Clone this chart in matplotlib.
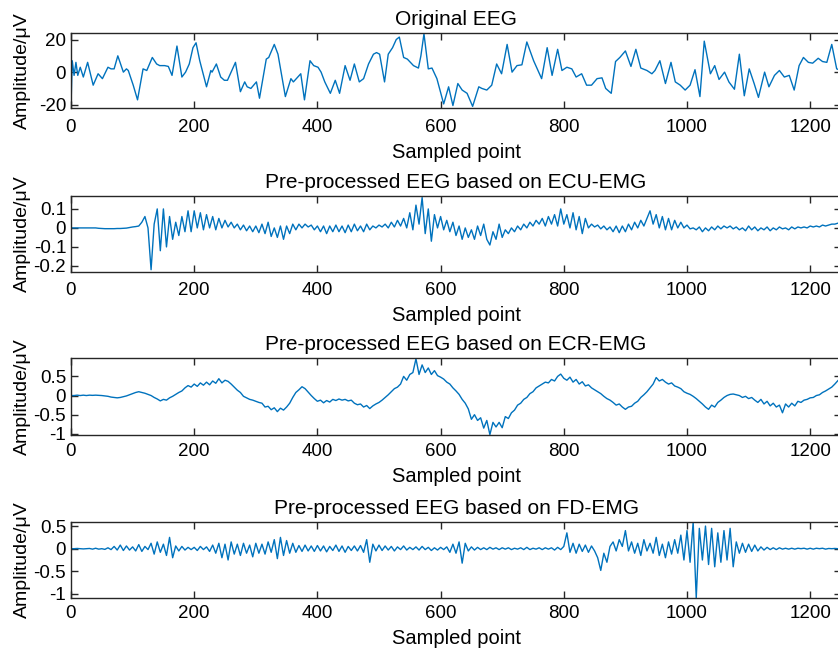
import numpy as np
import matplotlib
matplotlib.use('Agg')
import matplotlib.pyplot as plt

plt.rcParams['font.family'] = ['Liberation Sans', 'DejaVu Sans']
plt.rcParams['axes.unicode_minus'] = False

# ---- data ----
# original EEG: vertices (sample index, amplitude)
eeg_x = [0, 2, 5, 8, 11, 15, 20, 27, 36, 44, 51, 60, 65, 70, 76, 85, 90, 93, 101, 108,
         117, 123, 132, 139, 144, 152, 158, 164, 172, 180, 186, 192, 198, 203, 209, 220, 227, 229, 236, 243,
         249, 254, 267, 275, 282, 286, 292, 301, 306, 317, 321, 330, 336, 348, 357, 361, 373, 379, 388, 394,
         401, 406, 412, 421, 429, 436, 445, 453, 460, 468, 475, 483, 491, 496, 501, 509, 515, 522, 528, 533,
         540, 546, 556, 564, 568, 573, 580, 586, 594, 605, 613, 620, 628, 635, 643, 652, 662, 667, 675, 683,
         691, 699, 708, 716, 724, 732, 740, 751, 764, 773, 781, 790, 797, 805, 813, 820, 829, 837, 845, 854,
         862, 868, 877, 884, 891, 900, 909, 917, 925, 935, 943, 948, 956, 965, 974, 981, 989, 997, 1005, 1013,
         1021, 1028, 1038, 1045, 1052, 1061, 1068, 1077, 1085, 1093, 1101, 1109, 1116, 1126, 1133, 1142, 1150, 1158, 1166, 1174,
         1182, 1189, 1197, 1204, 1213, 1220, 1227, 1235, 1243, 1250]
eeg_y = [-21, 7, -2, 6, -2, 3, -3, 6, -8, -1, -4, 3, 2, 2, 10, 0, 2, 1, -8, -17,
         2, 1, 9, 5, 4, 4, 3.5, -2, 16, -3, 0, 5, 15, 18, 7, -9, 1, 0, 5, -3,
         -5, -5, 6, -12, -6, -9, -10, -6, -16, 8, 9, 17, 11, -15, -4, -6, -1, -17, 7, 4,
         3, 0, -6, -13, -5, -13, 4, -5, 5, -6, -4, 5, 11, 12, 11, -6, 11, 15, 20, 21.5,
         9, 8, 4, 2.5, 10, 23.5, 2, 2.5, -4, -19.5, -9, -20.5, -7, -11, -13, -21, -9, -10, -11, -8,
         5, -1, 17, 0, 4, 4.5, 18.5, 7, -4, 15, -2, 14, 1, 3, 2, -3, -1, -8, -8, -4,
         -3.5, -10, -13, 6.5, 9, 13, 3.5, 14, 2.5, 1, -1, 1, 7, -7, 6, -6, -8, -11, -8, 1.5,
         -15, 19, -1, 4, -4.5, 0, -6, -10.5, 11, -14.5, 2, -7, -15.5, 0, -9, -2, 1, -3, -2, -11,
         4, 9, 6, 5.5, 8.5, 6.5, 6, 17, 2, 1]

# pre-processed signals, one value every 5 samples (one line = 100 samples)
step = 5
ecu = [0, 0, 0, 0, 0, 0, 0, 0, 0, -0.002, -0.003, -0.004, -0.004, -0.004, -0.004, -0.003, -0.003, -0.002, -0.001, 0.002,
       0.005, 0.007, 0.01, 0.03, 0.06, 0.0, -0.22, 0.02, 0.1, -0.12, 0.1, -0.1, 0.06, -0.06, 0.03, -0.04, 0.06, -0.02, 0.09, -0.02,
       0.09, 0.0, 0.08, -0.01, 0.07, 0.0, 0.06, -0.01, 0.05, 0.0, 0.04, 0.005, 0.03, 0.0, 0.02, -0.01, 0.015, -0.015, 0.01, -0.02,
       0.01, -0.025, 0.02, -0.03, 0.03, -0.045, 0.0, -0.05, 0.01, -0.06, 0.01, -0.03, 0.02, -0.01, 0.02, 0.0, 0.02, 0.005, 0.015, -0.01,
       0.01, -0.02, 0.01, -0.03, 0.01, -0.02, 0.015, -0.02, 0.01, -0.025, 0.015, -0.02, 0.02, -0.015, 0.01, -0.02, 0.02, -0.01, 0.01, 0.0,
       0.015, 0.005, 0.02, 0.0, 0.03, 0.005, 0.04, 0.01, 0.05, 0.0, 0.08, -0.01, 0.12, 0.02, 0.16, -0.03, 0.1, -0.07, 0.07, 0.0,
       0.06, -0.01, 0.04, -0.02, 0.03, -0.04, 0.01, -0.06, 0.0, -0.05, -0.01, -0.06, 0.01, -0.04, 0.02, -0.06, -0.09, -0.02, -0.06, 0.02,
       -0.05, -0.01, -0.03, 0.0, -0.02, 0.01, -0.01, 0.02, 0.0, 0.03, 0.01, 0.04, 0.02, 0.05, 0.01, 0.06, 0.02, 0.07, 0.01, 0.1,
       0.02, 0.07, 0.0, 0.08, -0.01, 0.06, -0.03, 0.05, 0.0, 0.02, 0.005, 0.015, -0.005, 0.01, -0.01, 0.005, -0.02, 0.01, -0.025, 0.01,
       -0.02, 0.02, -0.01, 0.03, 0.0, 0.04, 0.01, 0.05, 0.09, 0.02, 0.07, 0.0, 0.06, -0.01, 0.05, -0.01, 0.04, 0.0, 0.03, 0.0,
       0.015, -0.005, 0.0, -0.01, 0.005, -0.02, 0.0, -0.015, 0.005, -0.01, 0.01, -0.005, 0.01, 0.0, 0.01, -0.005, 0.005, -0.01, 0.0, -0.015,
       0.01, -0.01, 0.005, -0.015, 0.0, -0.01, 0.005, -0.015, 0.0, -0.01, 0.005, -0.005, 0.0, -0.01, 0.005, -0.005, 0.005, 0.0, 0.005, 0.0,
       0.01, 0.005, 0.01, 0.005, 0.015, 0.01, 0.015, 0.02, 0.02, 0.025]

ecr = [0, 0, 0.01, 0, 0.01, 0, 0.01, 0.005, 0.01, 0.005, 0.0, -0.01, -0.02, -0.04, -0.05, -0.06, -0.05, -0.03, -0.01, 0.02,
       0.05, 0.08, 0.1, 0.08, 0.06, 0.03, 0.0, -0.05, -0.09, -0.14, -0.1, -0.12, -0.06, -0.02, 0.03, 0.08, 0.12, 0.2, 0.26, 0.22,
       0.3, 0.24, 0.33, 0.27, 0.35, 0.28, 0.38, 0.32, 0.44, 0.33, 0.4, 0.37, 0.3, 0.22, 0.14, 0.08, -0.02, -0.06, -0.1, -0.12,
       -0.15, -0.18, -0.2, -0.3, -0.28, -0.37, -0.32, -0.42, -0.33, -0.38, -0.3, -0.2, -0.05, 0.08, 0.15, 0.23, 0.18, 0.09, 0.0, -0.08,
       -0.15, -0.12, -0.19, -0.13, -0.17, -0.1, -0.13, -0.09, -0.12, -0.1, -0.14, -0.12, -0.2, -0.24, -0.22, -0.3, -0.26, -0.34, -0.27, -0.22,
       -0.18, -0.12, -0.05, 0.02, 0.1, 0.18, 0.22, 0.3, 0.5, 0.4, 0.55, 0.6, 0.96, 0.55, 0.8, 0.6, 0.72, 0.55, 0.65, 0.52,
       0.48, 0.43, 0.35, 0.3, 0.2, 0.12, 0.03, -0.1, -0.2, -0.35, -0.62, -0.5, -0.65, -0.58, -0.85, -0.65, -1.02, -0.7, -0.82, -0.7,
       -0.84, -0.55, -0.6, -0.45, -0.38, -0.25, -0.2, -0.1, -0.05, 0.05, 0.1, 0.2, 0.25, 0.3, 0.35, 0.33, 0.42, 0.38, 0.5, 0.56,
       0.45, 0.4, 0.48, 0.35, 0.42, 0.3, 0.36, 0.25, 0.28, 0.2, 0.15, 0.1, 0.05, -0.02, -0.08, -0.12, -0.18, -0.25, -0.22, -0.3,
       -0.36, -0.3, -0.28, -0.2, -0.15, -0.05, 0.02, 0.1, 0.2, 0.3, 0.47, 0.38, 0.42, 0.35, 0.3, 0.33, 0.25, 0.22, 0.18, 0.1,
       0.06, 0.03, -0.02, -0.08, -0.15, -0.22, -0.3, -0.36, -0.25, -0.3, -0.18, -0.12, -0.05, 0.0, 0.03, 0.04, 0.02, 0.0, -0.05, -0.02,
       -0.08, -0.05, -0.12, -0.18, -0.1, -0.22, -0.15, -0.27, -0.2, -0.3, -0.25, -0.45, -0.22, -0.3, -0.2, -0.27, -0.15, -0.18, -0.12, -0.1,
       -0.06, -0.05, 0.0, 0.02, 0.08, 0.12, 0.17, 0.22, 0.3, 0.39]

fd = [0, 0, 0.005, 0, -0.005, 0, 0.005, -0.01, 0.01, -0.01, 0.0, -0.015, 0.02, -0.02, 0.05, -0.03, 0.08, -0.04, 0.06, -0.03,
      0.04, -0.05, 0.09, -0.06, 0.05, -0.02, 0.12, -0.12, 0.15, -0.08, 0.1, -0.15, 0.25, -0.2, 0.06, -0.05, 0.05, -0.03, 0.03, -0.02,
      0.03, -0.04, 0.05, -0.02, 0.04, -0.06, 0.08, -0.1, 0.12, -0.2, 0.1, -0.25, 0.15, -0.12, 0.1, -0.15, 0.12, -0.1, 0.08, -0.18,
      0.12, -0.1, 0.1, -0.12, 0.15, -0.08, 0.2, -0.22, 0.25, -0.15, 0.18, -0.1, 0.12, -0.08, 0.07, -0.06, 0.08, -0.05, 0.06, -0.06,
      0.07, -0.05, 0.06, -0.07, 0.05, -0.04, 0.08, -0.06, 0.06, -0.08, 0.05, -0.04, 0.06, -0.05, 0.07, -0.08, 0.2, -0.3, 0.1, -0.05,
      0.08, -0.04, 0.06, -0.03, 0.05, -0.05, 0.04, -0.02, 0.06, -0.03, 0.03, -0.02, 0.04, -0.03, 0.05, -0.02, 0.03, -0.04, 0.02, -0.03,
      0.03, -0.02, 0.04, -0.08, 0.1, -0.1, 0.15, -0.32, 0.12, -0.05, 0.04, -0.03, 0.03, -0.02, 0.02, -0.02, 0.03, -0.01, 0.02, -0.02,
      0.02, -0.01, 0.02, -0.02, 0.01, -0.01, 0.02, -0.02, 0.03, -0.02, 0.01, -0.01, 0.02, -0.02, 0.02, -0.01, 0.02, -0.03, 0.03, -0.02,
      0.05, 0.35, -0.08, 0.12, -0.1, 0.1, -0.06, 0.08, -0.08, 0.06, -0.05, -0.2, -0.48, -0.1, -0.3, 0.05, 0.15, -0.05, 0.2, 0.05,
      0.4, -0.05, 0.15, -0.1, 0.12, -0.15, 0.2, -0.05, 0.12, -0.1, 0.25, -0.15, 0.1, -0.2, 0.15, -0.12, 0.2, -0.1, 0.3, -0.25,
      0.4, -0.3, 0.59, -1.09, 0.45, -0.25, 0.5, -0.35, 0.45, -0.4, 0.35, -0.3, 0.4, -0.25, 0.45, -0.4, 0.15, -0.1, 0.12, -0.08,
      0.1, -0.06, 0.08, -0.05, 0.04, -0.03, 0.03, -0.02, 0.02, -0.02, 0.02, -0.01, 0.01, -0.01, 0.01, -0.01, 0.01, 0.0, 0.01, -0.01,
      0.01, -0.01, 0.01, 0.0, 0.01, -0.01, 0.005, 0.0, 0.005, 0.0]

titles = ['Original EEG', 'Pre-processed EEG based on ECU-EMG',
          'Pre-processed EEG based on ECR-EMG', 'Pre-processed EEG based on FD-EMG']
ylims = [(-22, 24), (-0.232, 0.168), (-1.03, 0.98), (-1.09, 0.59)]
yticks = [[-20, 0, 20], [-0.2, -0.1, 0, 0.1], [-1, -0.5, 0, 0.5], [-1, -0.5, 0, 0.5]]
yticklabels = [['-20', '0', '20'], ['-0.2', '-0.1', '0', '0.1'],
               ['-1', '-0.5', '0', '0.5'], ['-1', '-0.5', '0', '0.5']]
xticks = [0, 200, 400, 600, 800, 1000, 1200]

series = [(eeg_x, eeg_y)]
for s in (ecu, ecr, fd):
    series.append((np.arange(len(s)) * step, s))

# axes boxes in pixels (top, bottom) and x tick label pads
boxes = [(33, 108), (196, 272), (358, 435), (522, 598)]
xpads = [8, 7.5, 6, 5]

W, H = 838, 655
fig = plt.figure(figsize=(W / 100, H / 100), dpi=100)
for i in range(4):
    top, bot = boxes[i]
    ax = fig.add_axes([71 / W, (H - bot) / H, 770 / W, (bot - top) / H])
    x, y = series[i]
    ax.plot(x, y, color='#0072BD', lw=1.0)
    ax.set_xlim(0, 1250)
    ax.set_ylim(*ylims[i])
    ax.set_xticks(xticks)
    ax.set_yticks(yticks[i])
    ax.set_yticklabels(yticklabels[i])
    ax.tick_params(direction='in', top=True, right=True, length=5, width=1,
                   labelsize=13.5, color='#262626')
    ax.tick_params(axis='x', pad=xpads[i])
    ax.tick_params(axis='y', pad=3.5)
    for sp in ax.spines.values():
        sp.set_linewidth(1)
        sp.set_color('#262626')
    ax.set_title(titles[i], fontsize=15, pad=6)
    ax.set_xlabel('Sampled point', fontsize=14.5, labelpad=5)
    ax.set_ylabel('Amplitude/\u03bcV', fontsize=14)
    ax.yaxis.set_label_coords(-0.052, 0.5)

fig.savefig('out.png', dpi=100)
